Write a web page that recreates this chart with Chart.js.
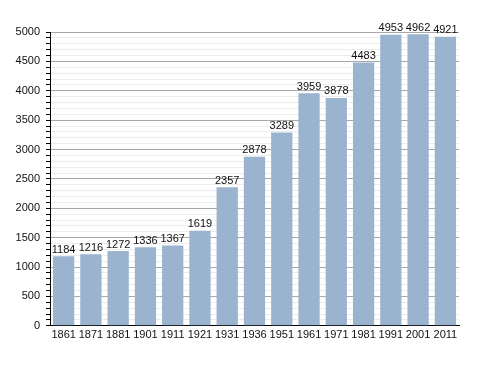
<!DOCTYPE html>
<html>
<head>
<meta charset="utf-8">
<script src="https://cdn.jsdelivr.net/npm/chart.js@4"></script>
<style>
  html, body { margin: 0; padding: 0; background: #fff; }
  #wrap { width: 488px; height: 373px; }
</style>
</head>
<body>
<div id="wrap"><canvas id="barChart" width="488" height="373"></canvas></div>
<script>
// population by census year
const years = ["1861", "1871", "1881", "1901", "1911", "1921", "1931", "1936",
  "1951", "1961", "1971", "1981", "1991", "2001", "2011"];
const population = [1184, 1216, 1272, 1336, 1367, 1619, 2357, 2878,
  3289, 3959, 3878, 4483, 4953, 4962, 4921];
const yTicks = [0, 500, 1000, 1500, 2000, 2500, 3000, 3500, 4000, 4500, 5000];

// value labels on top of bars
const barLabels = {
  id: "barLabels",
  afterDatasetsDraw(chart) {
    const ctx = chart.ctx;
    const meta = chart.getDatasetMeta(0);
    ctx.save();
    ctx.font = "11px 'Liberation Sans', Arial, sans-serif";
    ctx.fillStyle = "#111";
    ctx.textAlign = "center";
    ctx.textBaseline = "bottom";
    meta.data.forEach((bar, i) => {
      ctx.fillText(population[i], bar.x, bar.y - 1);
    });
    ctx.restore();
  }
};

new Chart(document.getElementById("barChart"), {
  type: "bar",
  data: {
    labels: years,
    datasets: [{
      data: population,
      backgroundColor: "rgb(154, 179, 207)",
      borderWidth: 0,
      barPercentage: 0.78,
      categoryPercentage: 1.0
    }]
  },
  options: {
    responsive: false,
    animation: false,
    layout: { padding: { top: 32, right: 29, bottom: 28, left: 0 } },
    plugins: { legend: { display: false }, tooltip: { enabled: false } },
    scales: {
      x: {
        grid: { display: false, drawTicks: false },
        border: { color: "#000", width: 1 },
        ticks: {
          color: "#111",
          padding: 3,
          maxRotation: 0,
          autoSkip: false,
          font: { family: "'Liberation Sans', Arial, sans-serif", size: 11 }
        }
      },
      y: {
        min: 0,
        max: 5000,
        afterFit(scale) { scale.width = 50; },
        ticks: {
          stepSize: 100,
          autoSkip: false,
          color: "#111",
          padding: 6,
          font: { family: "'Liberation Sans', Arial, sans-serif", size: 11 },
          callback: v => (yTicks.includes(v) ? v : "")
        },
        grid: {
          color: c => (c.tick.value % 500 === 0 ? "#a8a8a8" : "#ececec"),
          tickColor: "#000",
          tickLength: 4,
          lineWidth: 1
        },
        border: { color: "#000", width: 1 }
      }
    }
  },
  plugins: [barLabels]
});
</script>
</body>
</html>
